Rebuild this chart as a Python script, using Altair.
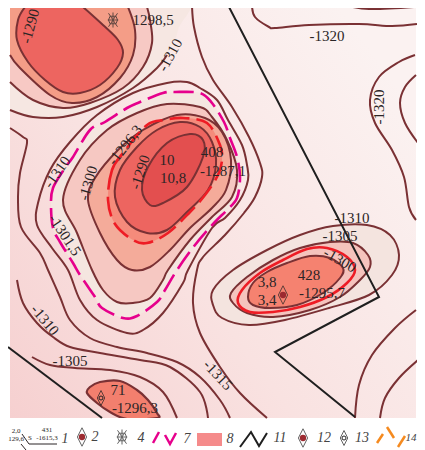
import altair as alt
import pandas as pd

DARK = "#7a3134"
INK = "#2b2526"
FONT = "Liberation Serif"
SX = alt.Scale(domain=[10, 416], nice=False, zero=False)
SY = alt.Scale(domain=[418, 8], nice=False, zero=False)

# --- contours (map coordinates) ---
ul_f = [(25,7),(18,20),(17,40),(28,62),(45,80),(63,92),(80,93),(100,85),(117,68),(123,53),(118,40),(103,25),(83,7)]
ul_e = [(10,55),(20,68),(50,95),(72,103),(97,97),(120,78),(133,55),(135,30),(128,7)]
ul_d = [(10,82),(33,100),(63,108),(90,103),(123,88),(143,67),(152,43),(150,20),(147,7)]
ul_c = [(10,110),(33,117),(63,117),(97,107),(133,88),(157,68),(167,55)]
ul_c_fill = [(178,30),(178,-8),(-8,-8),(-8,110)]
ul_d_fill = [(147,-8),(-8,-8),(-8,82)]
ul_e_fill = [(128,-8),(-8,-8),(-8,55)]
ul_f_fill = [(83,-8),(25,-8)]

c_c = [(37,225),(38,203),(50,170),(70,142),(97,115),(133,93),(167,83),(187,82),(200,88),(217,100),(228,120),(242,145),(247,165),(248,180),(240,200),(225,218),(212,228),(188,270),(183,283),(163,313),(143,330),(127,333),(97,320),(80,300),(68,270),(52,248)]
c_pink = [(51,205),(53,188),(65,168),(73,157),(90,130),(105,122),(127,108),(140,102),(163,93),(175,92),(200,93),(212,103),(224,122),(230,138),(237,157),(240,177),(237,198),(227,210),(214,223),(195,245),(177,270),(165,290),(157,302),(137,316),(123,318),(102,308),(95,297),(80,275),(73,263),(60,242),(53,228)]
c_d = [(63,200),(80,160),(107,130),(137,113),(167,104),(200,107),(212,117),(227,140),(237,170),(232,197),(212,217),(190,240),(168,270),(163,280),(150,298),(133,303),(117,302),(103,290),(92,270),(77,233)]
c_e = [(88,200),(95,178),(118,150),(143,130),(177,115),(205,118),(222,132),(231,160),(226,190),(212,208),(190,228),(170,250),(150,267),(132,270),(117,260),(100,233)]
c_red = [(108,200),(112,170),(123,153),(147,125),(165,120),(183,118),(207,123),(220,145),(222,160),(218,175),(205,195),(190,212),(168,233),(147,243),(133,240),(115,224)]
c_f = [(115,197),(120,170),(137,147),(157,130),(180,122),(200,127),(212,142),(216,165),(208,190),(187,212),(167,230),(147,233),(127,222)]
c_g = [(142,190),(148,167),(167,143),(190,134),(203,140),(203,157),(187,187),(163,203),(150,205)]

lr_outer = [(213,290),(233,270),(267,250),(300,235),(333,226),(367,225),(390,235),(399,255),(392,275),(369,295),(329,308),(285,320),(249,325),(222,318),(213,305)]
lr_d = [(231,293),(247,277),(273,260),(300,248),(330,242),(353,243),(368,255),(370,267),(360,280),(340,297),(310,310),(273,317),(247,313),(233,303)]
lr_red = [(238,303),(242,290),(260,273),(283,260),(307,249),(327,248),(347,257),(355,270),(347,283),(327,297),(300,307),(273,312),(250,312)]
lr_in = [(248,297),(253,283),(267,272),(287,263),(310,256),(330,258),(343,268),(340,278),(323,293),(297,305),(270,308),(253,305)]
small = [(87,393),(90,387),(100,382),(120,381),(137,390),(148,400),(157,413),(157,418),(127,419),(110,412),(97,403)]

open_lines = [
    [(192,5),(194,27),(202,57),(213,80),(232,107),(249,137),(260,163),(262,177),(255,197),(244,213),(225,235),(203,257),(197,270),(193,303),(200,333),(220,367),(240,393),(267,418)],
    [(10,128),(23,137),(27,143),(20,173),(18,197),(21,227),(40,253),(48,270),(60,297),(70,320),(90,338),(117,347),(147,353),(177,362),(200,377),(220,400),(230,418)],
    [(17,280),(23,303),(37,323),(53,337),(70,347),(100,353),(140,360),(170,367),(200,392),(208,418)],
    [(32,357),(50,365),(75,368),(110,370),(140,377),(163,392),(177,418)],
    [(252,5),(255,17),(269,27),(275,28),(309,25),(359,24),(392,26),(417,24)],
    [(297,4),(339,5),(369,9),(414,7)],
    [(415,55),(399,62),(379,77),(370,100),(375,123),(392,150),(404,177),(409,207),(416,220)],
    [(416,75),(405,87),(400,103),(405,123),(418,143)],
    [(416,310),(395,328),(372,355),(359,385),(355,418)],
    [(418,360),(399,378),(385,398),(380,418)],
    ul_f, ul_e, ul_d, ul_c,
]
faults = [
    [(229,7),(379,297),(275,352),(355,417)],
    [(8,347),(102,418)],
]

labels = [
    ("1298,5",153,20,0),("-1320",327,36,0),("-1320",379,107,270),("-1290",30,26,285),
    ("-1310",170,55,299),("-1296,3",125,145,308),("-1290",140,172,288),("10",167,160,0),
    ("10,8",173,178,0),("408",212,152,0),("-1287,1",223,171,0),("-1300",88,183,286),
    ("-1310",57,172,305),("-1301,5",65,235,56),("-1310",45,320,50),("-1305",70,361,0),
    ("71",118,390,0),("-1296,3",135,408,0),("-1315",218,375,47),("-1310",352,218,0),
    ("-1305",340,236,0),("-1300",340,260,30),("428",309,275,0),("-1295,7",322,293,0),
    ("3,8",267,282,0),("3,4",267,300,0),
]
small_labels = [("2,0",16,431),("129,6",16,439),("S",30,438),("431",47,430),("-1615,3",47,438)]
legend_nums = [("1",65,439),("2",95,437),("4",141,438),("7",187,439),("8",230,439),("11",280,438),("12",324,438),("13",362,438)]
legend_last = [("14",411,438)]

legend_lines = [
    ([(22,434),(29,444),(57,444)], INK, 1),
    ([(21,444),(26,450)], INK, 1),
    ([(153,443),(159,432)], "#e6008c", 2.5),
    ([(165,435),(170,444),(176,433)], "#e6008c", 2.5),
    ([(240,447),(251,432),(259,446),(267,433)], "#1f1f1f", 2),
    ([(377,443),(383,434)], "#f58a1f", 2.5),
    ([(387,427),(394,438)], "#f58a1f", 2.5),
    ([(398,447),(405,436)], "#f58a1f", 2.5),
]
diamond_pts = [(283,295),(82,437),(303,438)]
diamond_open_pts = [(101,398),(344,438)]
star_pts = [(113,20),(122,437)]
swatch = [(197,433,222,446)]

DIAMOND = "M0,-1L0.5,0L0,1L-0.5,0Z"
STAR = "M-0.6,-0.9L0.6,0.9M0.6,-0.9L-0.6,0.9M0,-1L0,1M-0.7,0L0.7,0M-0.4,-0.5L0.4,-0.5L0.6,0L0.4,0.5L-0.4,0.5L-0.6,0Z"


def enc(**kw):
    return dict(x=alt.X("x:Q", scale=SX, axis=None), y=alt.Y("y:Q", scale=SY, axis=None), **kw)


def frame(pts):
    return pd.DataFrame([{"x": p[0], "y": p[1], "i": n} for n, p in enumerate(pts)])


def poly(pts, fill=None, stroke=None, width=2, dash=None):
    kw = dict(interpolate="cardinal-closed", clip=True, strokeWidth=width)
    if dash:
        kw["strokeDash"] = dash
    e = enc(order="i:Q")
    e["fill"] = alt.value(fill) if fill else alt.value("transparent")
    e["stroke"] = alt.value(stroke) if stroke else alt.value("transparent")
    return alt.Chart(frame(pts)).mark_line(**kw).encode(**e)


def line(pts, color=DARK, width=2, interp="cardinal"):
    return alt.Chart(frame(pts)).mark_line(interpolate=interp, color=color, strokeWidth=width).encode(**enc(order="i:Q"))


bg = alt.Chart(pd.DataFrame([{"x": 10, "x1": 416, "y": 8, "y1": 418}])).mark_rect(
    fill=alt.LinearGradient(gradient="linear", x1=0, y1=1, x2=1, y2=0.25, stops=[
        alt.GradientStop(color="#f6d0d0", offset=0),
        alt.GradientStop(color="#f9e2e1", offset=0.45),
        alt.GradientStop(color="#fbf2f1", offset=1),
    ])
).encode(x=alt.X("x:Q", scale=SX, axis=None), x2="x1:Q", y=alt.Y("y:Q", scale=SY, axis=None), y2="y1:Q")

layers = [bg]
layers += [
    poly(ul_c + ul_c_fill, "#f6e7e2"), poly(ul_d + ul_d_fill, "#f7c9c4"),
    poly(ul_e + ul_e_fill, "#f49d87"), poly(ul_f + ul_f_fill, "#ed6560"),
    poly(c_pink, "#f5e6e0"), poly(c_d, "#f6c8c2"), poly(c_e, "#f4ab9a"),
    poly(c_red, "#f58b7b"), poly(c_f, "#ed6560"), poly(c_g, "#e34f4f"),
    poly(lr_outer, "#f4e4df"), poly(lr_d, "#f5c3bd"), poly(lr_red, "#f5c3bd"), poly(lr_in, "#f58270"),
    poly(small, "#f37f6e", DARK, 2.2),
]
layers += [line(p) for p in open_lines]
layers += [poly(p, None, DARK) for p in (c_c, c_d, c_e, c_f, c_g, lr_outer, lr_d, lr_in)]
layers += [
    poly(c_pink, None, "#e6008c", 2.6, [20, 7]),
    poly(c_red, None, "#ee1c25", 2.6, [20, 7]),
    poly(lr_red, None, "#ee1c25", 2.6),
]
layers += [line(p, "#1f1f1f", 2, "linear") for p in faults]
layers += [line(p, c, w, "linear") for p, c, w in legend_lines]

layers.append(alt.Chart(pd.DataFrame([dict(zip(["x","y","x1","y1"], s)) for s in swatch])).mark_rect(color="#f58b8b").encode(
    x=alt.X("x:Q", scale=SX, axis=None), x2="x1:Q", y=alt.Y("y:Q", scale=SY, axis=None), y2="y1:Q"))

layers.append(alt.Chart(frame(diamond_pts)).mark_point(shape=DIAMOND, size=340, filled=False, color="#222", strokeWidth=1).encode(**enc()))
layers.append(alt.Chart(frame(diamond_pts)).mark_circle(size=40, color="#9c2a30", opacity=1).encode(**enc()))
layers.append(alt.Chart(frame(diamond_open_pts)).mark_point(shape=DIAMOND, size=225, filled=False, color="#222", strokeWidth=1).encode(**enc()))
layers.append(alt.Chart(frame(diamond_open_pts)).mark_point(shape="circle", size=16, filled=False, color="#222", strokeWidth=1, opacity=1).encode(**enc()))
layers.append(alt.Chart(frame(star_pts)).mark_point(shape=STAR, size=225, filled=False, color="#222", strokeWidth=1).encode(**enc()))

lab = pd.DataFrame(labels, columns=["t", "x", "y", "a"])
for a, g in lab.groupby("a"):
    layers.append(alt.Chart(g).mark_text(font=FONT, fontSize=15, color=INK, angle=int(a), align="center", baseline="middle").encode(**enc(text="t:N")))
layers.append(alt.Chart(pd.DataFrame(small_labels, columns=["t", "x", "y"])).mark_text(font=FONT, fontSize=7, color=INK, baseline="middle").encode(**enc(text="t:N")))
layers.append(alt.Chart(pd.DataFrame(legend_nums, columns=["t", "x", "y"])).mark_text(font=FONT, fontSize=14, fontStyle="italic", color="#444", baseline="middle").encode(**enc(text="t:N")))
layers.append(alt.Chart(pd.DataFrame(legend_last, columns=["t", "x", "y"])).mark_text(font=FONT, fontSize=11, fontStyle="italic", color="#444", baseline="middle").encode(**enc(text="t:N")))

chart = alt.layer(*layers).properties(
    width=406, height=410,
    padding={"left": 2, "top": 0, "right": 1, "bottom": 32},
    autosize=alt.AutoSizeParams(type="none"),
).configure_view(stroke=None)

chart.save("out.html", embed_options={"renderer": "svg", "actions": False})
